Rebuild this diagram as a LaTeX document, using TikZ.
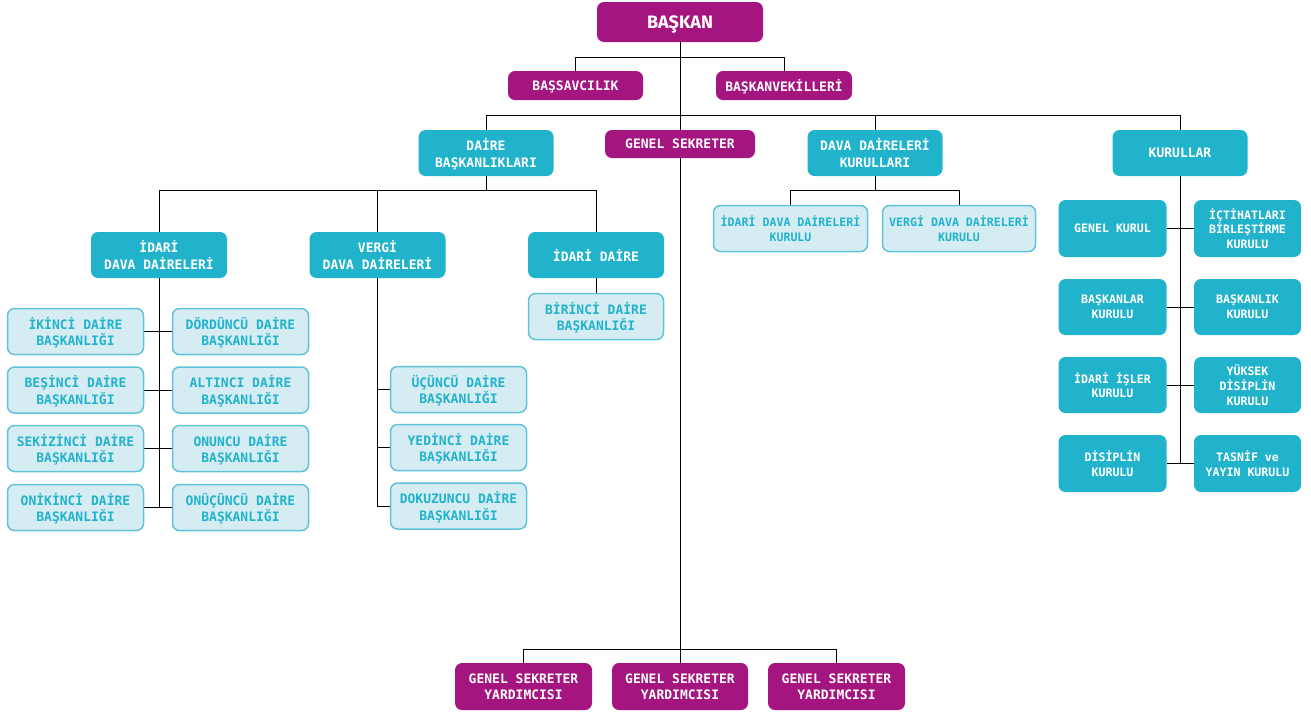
\documentclass[tikz,border=0pt]{standalone}
\usepackage{fontspec}
\usetikzlibrary{backgrounds}
\newfontfamily\monof{DejaVu Sans Mono}
\newfontfamily\headf{Fira Sans}
\definecolor{mag}{HTML}{A5157F}
\definecolor{tealc}{HTML}{21B3CC}
\definecolor{lightc}{HTML}{D6ECF3}
\definecolor{lbord}{HTML}{5FC4D8}
\definecolor{linec}{HTML}{2B2B2B}
\tikzset{
  base/.style={rounded corners=7pt, align=center, inner sep=0pt, text depth=0pt,
    font=\monof\bfseries\fontsize{13}{16.5}\selectfont},
  sz/.style 2 args={minimum width=#1, minimum height=#2},
  mbox/.style={base, fill=mag, text=white},
  tbox/.style={base, fill=tealc, text=white},
  lbox/.style={base, fill=lightc, draw=lbord, line width=1.5pt, text=tealc},
  small/.style={font=\monof\bfseries\fontsize{11.6}{14.7}\selectfont},
  conn/.style={draw=linec, line width=1.8pt},
}
\begin{document}
\begin{tikzpicture}[x=1pt,y=-1pt]
\useasboundingbox (0,0) rectangle (1311,713);
% top
\node[mbox, sz={166pt}{40pt}, font=\headf\bfseries\fontsize{18}{20}\selectfont] (baskan) at (680,22) {BAŞKAN};
\node[mbox, sz={135pt}{29pt}] (bs) at (575.5,85.5) {BAŞSAVCILIK};
\node[mbox, sz={136pt}{29pt}] (bv) at (784,85.5) {BAŞKANVEKİLLERİ};
% second level
\node[tbox, sz={135pt}{46pt}] (db) at (486,153) {DAİRE\\BAŞKANLIKLARI};
\node[mbox, sz={150pt}{28pt}] (gs) at (680,144) {GENEL SEKRETER};
\node[tbox, sz={135pt}{46pt}] (ddk) at (875,153) {DAVA DAİRELERİ\\KURULLARI};
\node[tbox, sz={135pt}{46pt}] (kur) at (1180,153) {KURULLAR};
% daire baskanliklari children
\node[tbox, sz={136pt}{46pt}] (idd) at (159,255) {İDARİ\\DAVA DAİRELERİ};
\node[tbox, sz={136pt}{46pt}] (vdd) at (377.5,255) {VERGİ\\DAVA DAİRELERİ};
\node[tbox, sz={136pt}{46pt}] (idr) at (596,255) {İDARİ DAİRE};
\node[lbox, sz={135pt}{46pt}] (bir) at (596,316.5) {BİRİNCİ DAİRE\\BAŞKANLIĞI};
% idari dava daireleri
\node[lbox, sz={136pt}{46pt}] (a1) at (75.5,331.5) {İKİNCİ DAİRE\\BAŞKANLIĞI};
\node[lbox, sz={136pt}{46pt}] (a2) at (75.5,390) {BEŞİNCİ DAİRE\\BAŞKANLIĞI};
\node[lbox, sz={136pt}{46pt}] (a3) at (75.5,448.5) {SEKİZİNCİ DAİRE\\BAŞKANLIĞI};
\node[lbox, sz={136pt}{46pt}] (a4) at (75.5,507.5) {ONİKİNCİ DAİRE\\BAŞKANLIĞI};
\node[lbox, sz={136pt}{46pt}] (b1) at (240.5,331.5) {DÖRDÜNCÜ DAİRE\\BAŞKANLIĞI};
\node[lbox, sz={136pt}{46pt}] (b2) at (240.5,390) {ALTINCI DAİRE\\BAŞKANLIĞI};
\node[lbox, sz={136pt}{46pt}] (b3) at (240.5,448.5) {ONUNCU DAİRE\\BAŞKANLIĞI};
\node[lbox, sz={136pt}{46pt}] (b4) at (240.5,507.5) {ONÜÇÜNCÜ DAİRE\\BAŞKANLIĞI};
% vergi dava daireleri
\node[lbox, sz={136pt}{46pt}] (c1) at (458.5,389.5) {ÜÇÜNCÜ DAİRE\\BAŞKANLIĞI};
\node[lbox, sz={136pt}{46pt}] (c2) at (458.5,447.5) {YEDİNCİ DAİRE\\BAŞKANLIĞI};
\node[lbox, sz={136pt}{46pt}] (c3) at (458.5,506) {DOKUZUNCU DAİRE\\BAŞKANLIĞI};
% dava daireleri kurullari
\node[lbox, small, sz={154pt}{46pt}] (k1) at (790.5,228.5) {İDARİ DAVA DAİRELERİ\\KURULU};
\node[lbox, small, sz={153pt}{46pt}] (k2) at (959,228.5) {VERGİ DAVA DAİRELERİ\\KURULU};
% kurullar
\node[tbox, small, sz={108pt}{57pt}] (r1l) at (1112.5,228.5) {GENEL KURUL};
\node[tbox, small, sz={108pt}{56pt}] (r2l) at (1112.5,307) {BAŞKANLAR\\KURULU};
\node[tbox, small, sz={108pt}{56pt}] (r3l) at (1112.5,385) {İDARİ İŞLER\\KURULU};
\node[tbox, small, sz={108pt}{57pt}] (r4l) at (1112.5,463.5) {DİSİPLİN\\KURULU};
\node[tbox, small, sz={107pt}{57pt}] (r1r) at (1247.5,228.5) {İÇTİHATLARI\\BİRLEŞTİRME\\KURULU};
\node[tbox, small, sz={107pt}{56pt}] (r2r) at (1247.5,307) {BAŞKANLIK\\KURULU};
\node[tbox, small, sz={107pt}{56pt}] (r3r) at (1247.5,385) {YÜKSEK\\DİSİPLİN\\KURULU};
\node[tbox, small, sz={107pt}{57pt}] (r4r) at (1247.5,463.5) {TASNİF ve\\YAYIN KURULU};
% genel sekreter yardimcilari
\node[mbox, sz={137pt}{47pt}] (g1) at (523.5,686.5) {GENEL SEKRETER\\YARDIMCISI};
\node[mbox, sz={136pt}{47pt}] (g2) at (680,686.5) {GENEL SEKRETER\\YARDIMCISI};
\node[mbox, sz={137pt}{47pt}] (g3) at (836.5,686.5) {GENEL SEKRETER\\YARDIMCISI};
% connectors
\begin{scope}[on background layer, conn]
  \draw (baskan.south) -- (g2.north);
  \draw (bs.north) -- +(0,-14) -| (bv.north);
  \draw (db.north) -- +(0,-15) -| (kur.north);
  \draw (ddk.north) -- +(0,-15);
  \draw (db.south) -- +(0,14) coordinate (dbj);
  \draw (idd.north) |- (dbj) -| (idr.north);
  \draw (vdd.north) -- (vdd.north |- dbj);
  \draw (idd.south) -- (idd.south |- a4.east);
  \draw (a1.east) -- (b1.west);
  \draw (a2.east) -- (b2.west);
  \draw (a3.east) -- (b3.west);
  \draw (a4.east) -- (b4.west);
  \draw (vdd.south) -- (vdd.south |- c3.west) -- (c3.west);
  \draw (vdd.south |- c1.west) -- (c1.west);
  \draw (vdd.south |- c2.west) -- (c2.west);
  \draw (idr.south) -- (bir.north);
  \draw (ddk.south) -- +(0,14) coordinate (ddkj);
  \draw (k1.north) |- (ddkj) -| (k2.north);
  \draw (kur.south) -- (kur.south |- r4l.east);
  \draw (r1l.east) -- (r1r.west);
  \draw (r2l.east) -- (r2r.west);
  \draw (r3l.east) -- (r3r.west);
  \draw (r4l.east) -- (r4r.west);
  \draw (g1.north) -- +(0,-14) -| (g3.north);
\end{scope}
\end{tikzpicture}
\end{document}
